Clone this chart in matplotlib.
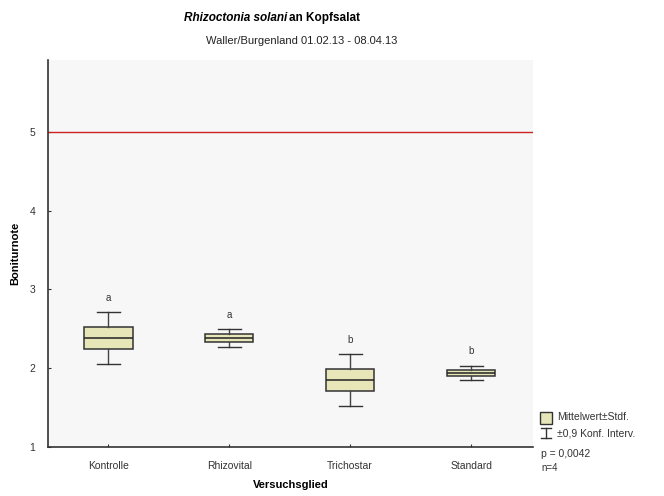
import matplotlib.pyplot as plt
from matplotlib.patches import Rectangle
from matplotlib.lines import Line2D

plt.rcParams['font.family'] = ['Liberation Sans Narrow', 'Liberation Sans', 'DejaVu Sans']

# Mittelwert, Standardfehler und 90%-Konfidenzintervall je Versuchsglied
glieder = ['Kontrolle', 'Rhizovital', 'Trichostar', 'Standard']
mittel = [2.38, 2.38, 1.85, 1.94]
stdf = [0.138, 0.05, 0.136, 0.036]
konf = [0.328, 0.117, 0.33, 0.089]
gruppen = ['a', 'a', 'b', 'b']
grenzwert = 5

fig = plt.figure(figsize=(6.64, 4.96), dpi=100)
ax = fig.add_axes([0.0723, 0.0988, 0.730, 0.780])
ax.set_facecolor('#f7f7f7')

stats = []
for name, m, s, k in zip(glieder, mittel, stdf, konf):
    stats.append(dict(label=name, med=m, q1=m - s, q3=m + s,
                      whislo=m - k, whishi=m + k, fliers=[]))

ax.bxp(stats, positions=range(len(glieder)), widths=0.40, capwidths=0.19,
       patch_artist=True, showfliers=False,
       boxprops=dict(facecolor='#e6e6b9', edgecolor='#333333', linewidth=1.1),
       medianprops=dict(color='#222222', linewidth=1.1),
       whiskerprops=dict(color='#444444', linewidth=1.0),
       capprops=dict(color='#333333', linewidth=1.0))

for i, (m, k, g) in enumerate(zip(mittel, konf, gruppen)):
    ax.text(i, m + k + 0.12, g, ha='center', va='bottom', fontsize=7, color='#333333')

ax.axhline(grenzwert, color='#cc2222', linewidth=1.0)

ax.set_xlim(-0.5, 3.51)
ax.set_ylim(1, 5.91)
ax.set_yticks([1, 2, 3, 4, 5])
ax.set_xticks(range(len(glieder)))
ax.set_xticklabels(glieder)
ax.tick_params(direction='in', length=2, labelsize=7.5, colors='#333333', pad=10)
ax.tick_params(axis='y', pad=9)
for side in ['top', 'right']:
    ax.spines[side].set_visible(False)
for side in ['left', 'bottom']:
    ax.spines[side].set_color('#333333')
    ax.spines[side].set_linewidth(1.2)

ax.set_xlabel('Versuchsglied', fontsize=8, fontweight='bold', va='center')
ax.set_ylabel('Boniturnote', fontsize=8, fontweight='bold')
ax.xaxis.set_label_coords(0.5, -0.099)
ax.yaxis.set_label_coords(-0.058, 0.5)

# Titel: Erreger kursiv, Rest fett
fig.text(287 / 664, 0.963, 'Rhizoctonia solani', ha='right', va='center',
         fontsize=8.5, fontweight='bold', fontstyle='italic')
fig.text(289 / 664, 0.963, 'an Kopfsalat', ha='left', va='center',
         fontsize=8.5, fontweight='bold')
fig.text(0.455, 0.917, 'Waller/Burgenland 01.02.13 - 08.04.13', ha='center', va='center',
         fontsize=8, color='#222222')

# Legende rechts unten
fig.patches.append(Rectangle((540 / 664, 1 - 423.5 / 496), 12 / 664, 12 / 496,
                             transform=fig.transFigure, facecolor='#e6e6b9',
                             edgecolor='#333333', linewidth=1.0))
fig.text(557 / 664, 1 - 417.5 / 496, 'Mittelwert±Stdf.', fontsize=7.5, va='center', color='#333333')
xl, xr, xm = 541 / 664, 551 / 664, 546 / 664
yt, yb = 1 - 428 / 496, 1 - 438 / 496
for xs, ys in [([xl, xr], [yt, yt]), ([xl, xr], [yb, yb]), ([xm, xm], [yt, yb])]:
    fig.lines.append(Line2D(xs, ys, transform=fig.transFigure, color='#333333', linewidth=1.0))
fig.text(557 / 664, 1 - 434 / 496, '±0,9 Konf. Interv.', fontsize=7.5, va='center', color='#333333')
fig.text(541 / 664, 1 - 454 / 496, 'p = 0,0042', fontsize=7.5, va='center', color='#333333')
fig.text(541 / 664, 1 - 468 / 496, 'n=4', fontsize=7, va='center', color='#333333')

fig.savefig('out.png', dpi=100)
